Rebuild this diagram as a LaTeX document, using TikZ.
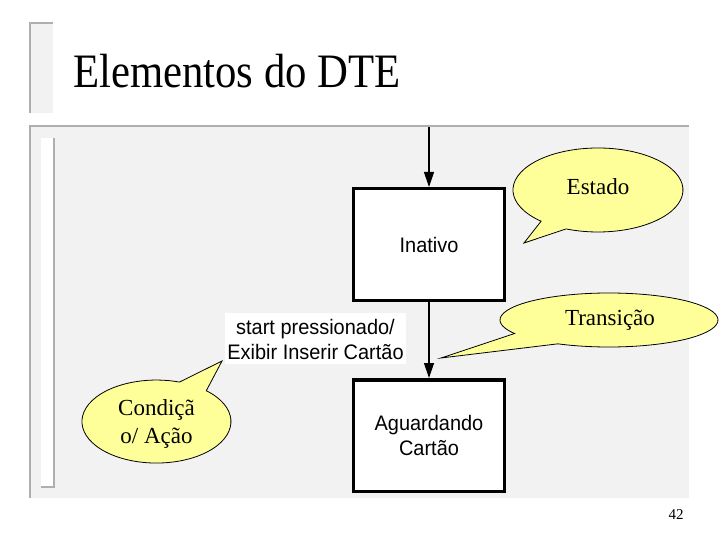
\documentclass[tikz,border=0pt]{standalone}
\usepackage{fontspec}
\setmainfont{Liberation Serif}
\newfontfamily\arialfont{Liberation Sans}
\usetikzlibrary{arrows.meta}
\definecolor{panelfill}{HTML}{F2F2F2}
\definecolor{panelline}{HTML}{AFAFAF}
\definecolor{bubbleyellow}{HTML}{FFFF99}
\begin{document}
\begin{tikzpicture}[x=1pt,y=-1pt,
  edgeline/.style={draw=panelline, line width=2pt},
  statebox/.style={draw=black, line width=3.5pt, fill=white, minimum width=151pt, minimum height=111.5pt, inner sep=0pt},
  sanstext/.style={font=\arialfont\fontsize{21}{25}\selectfont, align=center, xscale=0.95, inner sep=0pt},
  bubble/.style={fill=bubbleyellow, draw=black, line width=0.8pt, line join=miter},
  bubbletext/.style={font=\fontsize{23}{28}\selectfont, align=center, inner sep=0pt},
  flow/.style={-{Triangle[width=10pt,length=15pt]}, line width=1.2pt}]
\useasboundingbox (0,0) rectangle (720,540);
\fill[white] (0,0) rectangle (720,540);
% title decoration
\fill[panelfill] (30,23) rectangle (53,113);
\draw[edgeline] (53,23) -- (30,23) -- (30,113);
% content panel
\fill[panelfill] (30,126) rectangle (689,498);
\draw[edgeline] (689,126) -- (30,126) -- (30,498);
\fill[white] (41,138) rectangle (54,487);
\draw[edgeline] (54,138) -- (54,487) -- (41,487);
% title
\node[anchor=base west, font=\fontsize{48}{56}\selectfont, xscale=0.89, inner sep=0pt] (title) at (73,88) {Elementos do DTE};
% states
\node[statebox] (inativo) at (429,244.5) {};
\node[sanstext] (inativotext) at (inativo.center) {Inativo};
\node[statebox] (aguard) at (429,435.5) {};
\node[sanstext] (aguardtext) at (aguard.center) {Aguardando\\Cartão};
\coordinate (start) at (429,127);
\draw[flow] (start) -- (inativo.north);
\draw[flow] (inativo.south) -- (aguard.north);
% transition label
\fill[white] (225,313) rectangle (406,364);
\node[sanstext] (lbl) at (315.5,339) {start pressionado/\\Exibir Inserir Cartão};
% callouts
\draw[bubble] (524,243) -- (541.1,221.2) arc[start angle=132, end angle=472, x radius=85, y radius=42] -- cycle;
\node[bubbletext] (estado) at (598,187) {Estado};
\draw[bubble] (441,358) -- (514.6,333.5) arc[start angle=150, end angle=478, x radius=109, y radius=27] -- cycle;
\node[bubbletext] (transicao) at (610,320) {Transição};
\draw[bubble] (222,361) -- (206.3,390.7) arc[start angle=-48, end angle=288, x radius=74.5, y radius=41.5] -- cycle;
\node[bubbletext] (condicao) at (156.5,424) {Condiçã\\o/ Ação};
% page number
\node[font=\fontsize{15}{17}\selectfont, inner sep=0pt] (pnum) at (676,515) {42};
\end{tikzpicture}
\end{document}
